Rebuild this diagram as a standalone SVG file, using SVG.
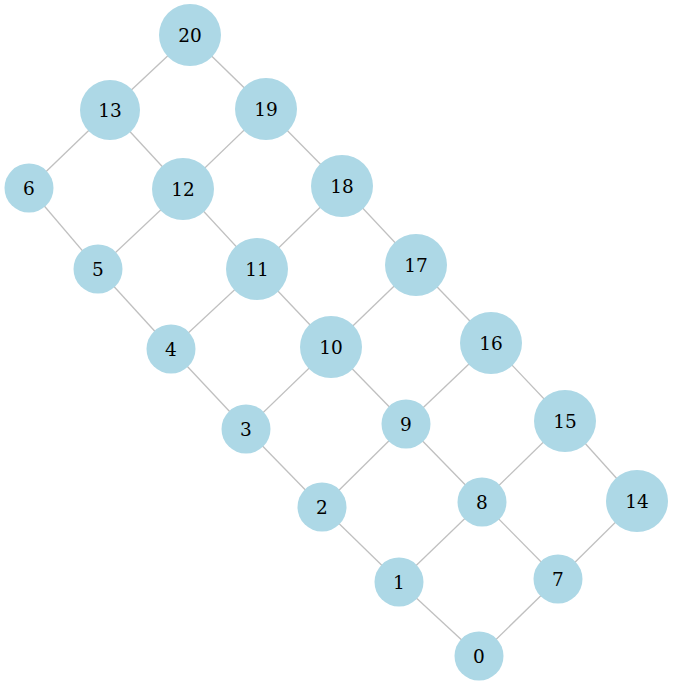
<svg xmlns="http://www.w3.org/2000/svg" width="673" height="685" viewBox="0 0 673 685">
<style>
.e{stroke:#c0c0c0;stroke-width:1.3;fill:none}
.n circle{fill:#add8e6}
.n text{font-family:"DejaVu Serif",serif;font-size:18.5px;fill:#000;text-anchor:middle;dominant-baseline:central}
</style>
<rect width="673" height="685" fill="#fff"/>
<g id="edges">
<line class="e" x1="190" y1="35" x2="110" y2="110"/>
<line class="e" x1="190" y1="35" x2="266" y2="109"/>
<line class="e" x1="110" y1="110" x2="29" y2="188"/>
<line class="e" x1="110" y1="110" x2="183" y2="189"/>
<line class="e" x1="266" y1="109" x2="183" y2="189"/>
<line class="e" x1="266" y1="109" x2="342" y2="186"/>
<line class="e" x1="29" y1="188" x2="98" y2="269"/>
<line class="e" x1="183" y1="189" x2="98" y2="269"/>
<line class="e" x1="183" y1="189" x2="257" y2="269"/>
<line class="e" x1="342" y1="186" x2="257" y2="269"/>
<line class="e" x1="342" y1="186" x2="416" y2="265"/>
<line class="e" x1="98" y1="269" x2="171" y2="349"/>
<line class="e" x1="257" y1="269" x2="171" y2="349"/>
<line class="e" x1="257" y1="269" x2="331" y2="347"/>
<line class="e" x1="416" y1="265" x2="331" y2="347"/>
<line class="e" x1="416" y1="265" x2="491" y2="343"/>
<line class="e" x1="171" y1="349" x2="246" y2="429"/>
<line class="e" x1="331" y1="347" x2="246" y2="429"/>
<line class="e" x1="331" y1="347" x2="406" y2="424"/>
<line class="e" x1="491" y1="343" x2="406" y2="424"/>
<line class="e" x1="491" y1="343" x2="565" y2="421"/>
<line class="e" x1="246" y1="429" x2="322" y2="507"/>
<line class="e" x1="406" y1="424" x2="322" y2="507"/>
<line class="e" x1="406" y1="424" x2="482" y2="502"/>
<line class="e" x1="565" y1="421" x2="482" y2="502"/>
<line class="e" x1="565" y1="421" x2="637" y2="501"/>
<line class="e" x1="322" y1="507" x2="399" y2="582"/>
<line class="e" x1="482" y1="502" x2="399" y2="582"/>
<line class="e" x1="482" y1="502" x2="558" y2="579"/>
<line class="e" x1="637" y1="501" x2="558" y2="579"/>
<line class="e" x1="399" y1="582" x2="479" y2="656"/>
<line class="e" x1="558" y1="579" x2="479" y2="656"/>
</g>
<g id="n20" class="n"><circle cx="190" cy="35" r="31"/><text x="190" y="35">20</text></g>
<g id="n13" class="n"><circle cx="110" cy="110" r="30"/><text x="110" y="110">13</text></g>
<g id="n19" class="n"><circle cx="266" cy="109" r="31"/><text x="266" y="109">19</text></g>
<g id="n6" class="n"><circle cx="29" cy="188" r="24.5"/><text x="29" y="188">6</text></g>
<g id="n12" class="n"><circle cx="183" cy="189" r="31"/><text x="183" y="189">12</text></g>
<g id="n18" class="n"><circle cx="342" cy="186" r="31"/><text x="342" y="186">18</text></g>
<g id="n5" class="n"><circle cx="98" cy="269" r="24.5"/><text x="98" y="269">5</text></g>
<g id="n11" class="n"><circle cx="257" cy="269" r="31"/><text x="257" y="269">11</text></g>
<g id="n17" class="n"><circle cx="416" cy="265" r="31"/><text x="416" y="265">17</text></g>
<g id="n4" class="n"><circle cx="171" cy="349" r="24.5"/><text x="171" y="349">4</text></g>
<g id="n10" class="n"><circle cx="331" cy="347" r="31"/><text x="331" y="347">10</text></g>
<g id="n16" class="n"><circle cx="491" cy="343" r="31"/><text x="491" y="343">16</text></g>
<g id="n3" class="n"><circle cx="246" cy="429" r="24.5"/><text x="246" y="429">3</text></g>
<g id="n9" class="n"><circle cx="406" cy="424" r="24.5"/><text x="406" y="424">9</text></g>
<g id="n15" class="n"><circle cx="565" cy="421" r="31"/><text x="565" y="421">15</text></g>
<g id="n2" class="n"><circle cx="322" cy="507" r="24.5"/><text x="322" y="507">2</text></g>
<g id="n8" class="n"><circle cx="482" cy="502" r="24.5"/><text x="482" y="502">8</text></g>
<g id="n14" class="n"><circle cx="637" cy="501" r="31"/><text x="637" y="501">14</text></g>
<g id="n1" class="n"><circle cx="399" cy="582" r="24.5"/><text x="399" y="582">1</text></g>
<g id="n7" class="n"><circle cx="558" cy="579" r="24.5"/><text x="558" y="579">7</text></g>
<g id="n0" class="n"><circle cx="479" cy="656" r="24.5"/><text x="479" y="656">0</text></g>
</svg>
